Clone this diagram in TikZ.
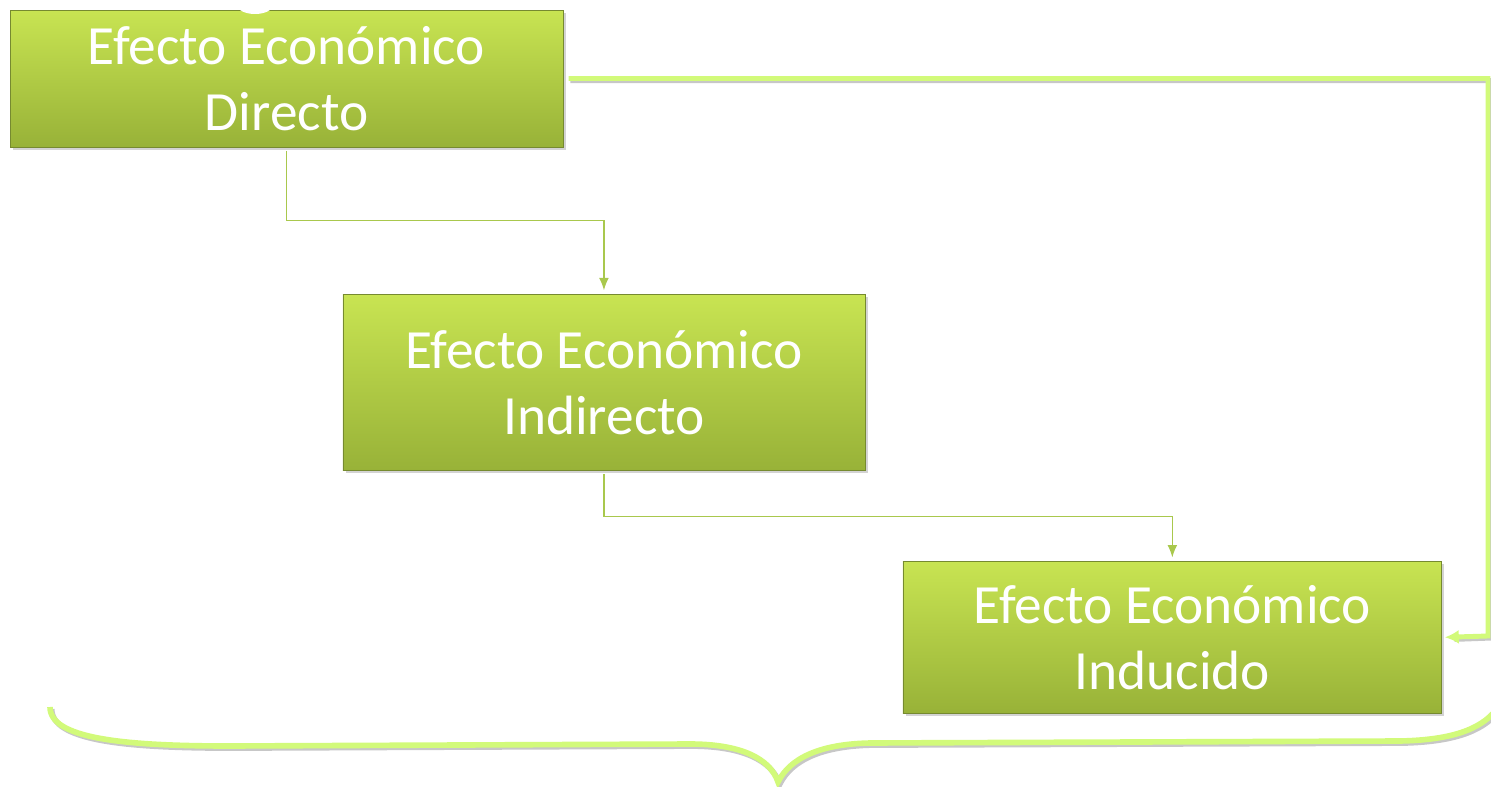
\documentclass[tikz,border=0pt]{standalone}
\usepackage{fontspec}
\setmainfont{Carlito}
\usetikzlibrary{arrows,arrows.meta,positioning,shadows}
\definecolor{hojaclara}{RGB}{200,228,82}
\definecolor{hojaoscura}{RGB}{152,178,56}
\definecolor{borde}{RGB}{118,138,48}
\definecolor{flecha}{RGB}{169,200,77}
\definecolor{lima}{RGB}{210,250,122}

\begin{document}
\begin{tikzpicture}[x=0.02cm,y=-0.02cm]
	\tikzstyle{efecto}=[draw=borde, line width=0.4pt, rectangle, top color=hojaclara, bottom color=hojaoscura, text=white, font=\fontsize{31.5}{37.5}\selectfont, align=center, drop shadow={shadow xshift=1.5pt, shadow yshift=-1.5pt, opacity=0.35}]
	\tikzstyle{flujo}=[draw=flecha, line width=0.7pt, -{Latex[length=7pt,width=5.5pt]}]
	\tikzstyle{retorno}=[draw=lima, line width=2.8pt, -{Latex[length=8pt,width=8pt]}]
	\tikzstyle{sombra}=[draw=black!22, line width=2.8pt, transform canvas={xshift=1pt,yshift=-1.2pt}]

	\useasboundingbox (0,0) rectangle (1491,787);

	\node[efecto, minimum width=11.06cm, minimum height=2.74cm] (directo) at (286.5,78.5) {Efecto Económico\\Directo};
	\node[efecto, minimum width=10.44cm, minimum height=3.52cm] (indirecto) [below=2.94cm of directo, xshift=6.35cm] {Efecto Económico\\Indirecto};
	\node[efecto, minimum width=10.78cm, minimum height=3.04cm] (inducido) [below=1.8cm of indirecto, xshift=11.37cm] {Efecto Económico\\Inducido};

	% manchita blanca arriba
	\fill[white] (255,5) ellipse (18 and 9);

	\draw[flujo] ([yshift=-2pt]directo.south) -- ++(0,70) -| ([yshift=2.3pt]indirecto.north);
	\draw[flujo] ([yshift=-2pt]indirecto.south) -- ++(0,42) -| ([yshift=2pt]inducido.north);

	\coordinate (esq) at (1488,636);
	\draw[sombra] ([xshift=3pt]directo.east) -| (esq) -- ([xshift=6pt]inducido.east);
	\draw[retorno] ([xshift=3pt]directo.east) -| (esq) -- ([xshift=1.5pt]inducido.east);

	% llave
	\draw[sombra, line width=3.2pt] (50,707) .. controls (50,738) and (120,746) .. (230,746) -- (690,744) .. controls (740,744) and (770,758) .. (778,782) .. controls (790,758) and (820,744) .. (870,743) -- (1400,741) .. controls (1450,740) and (1480,730) .. (1496,710);
	\draw[draw=lima, line width=3.2pt] (50,707) .. controls (50,738) and (120,746) .. (230,746) -- (690,744) .. controls (740,744) and (770,758) .. (778,782) .. controls (790,758) and (820,744) .. (870,743) -- (1400,741) .. controls (1450,740) and (1480,730) .. (1496,710);
\end{tikzpicture}
\end{document}
